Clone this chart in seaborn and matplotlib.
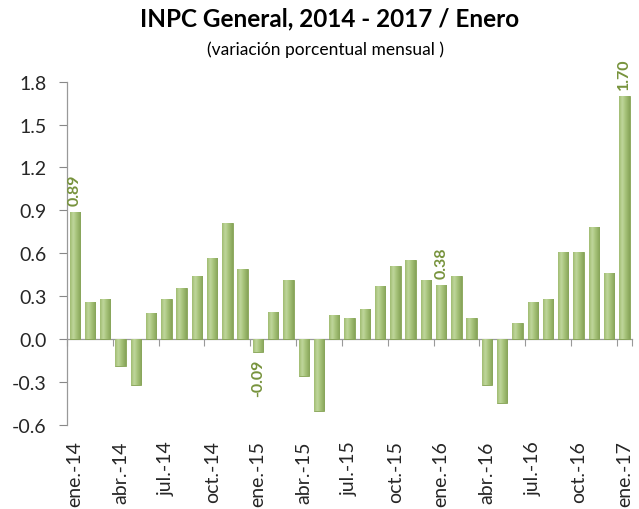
import numpy as np
import pandas as pd
import matplotlib
matplotlib.use("Agg")
import matplotlib.pyplot as plt
import seaborn as sns
from matplotlib.colors import LinearSegmentedColormap

months = ["ene", "feb", "mar", "abr", "may", "jun", "jul", "ago", "sep", "oct", "nov", "dic"]
periods = [f"{m}.-{y}" for y in ["14", "15", "16"] for m in months] + ["ene.-17"]
values = [0.89, 0.26, 0.28, -0.19, -0.32, 0.18, 0.28, 0.36, 0.44, 0.57, 0.81, 0.49,
          -0.09, 0.19, 0.41, -0.26, -0.50, 0.17, 0.15, 0.21, 0.37, 0.51, 0.55, 0.41,
          0.38, 0.44, 0.15, -0.32, -0.45, 0.11, 0.26, 0.28, 0.61, 0.61, 0.78, 0.46,
          1.70]
labeled = {"ene.-14": "0.89", "ene.-15": "-0.09", "ene.-16": "0.38", "ene.-17": "1.70"}
yticks = [-0.6, -0.3, 0.0, 0.3, 0.6, 0.9, 1.2, 1.5, 1.8]

df = pd.DataFrame({"periodo": periods, "valor": values})

sns.set_style("white")
plt.rcParams["font.family"] = ["Lato", "DejaVu Sans"]

fig = plt.figure(figsize=(6.39, 5.10), dpi=100)
ax = fig.add_axes([0.105, 0.165, 0.884, 0.673])

sns.barplot(data=df, x="periodo", y="valor", color="#9fbd6c", width=0.68,
            edgecolor="#86a355", linewidth=0.6, saturation=1, ax=ax, zorder=2)

# gradient fill for the 3D-ish bar look
cmap = LinearSegmentedColormap.from_list(
    "bar", [(0.0, "#9fbb70"), (0.3, "#c0d79d"), (0.55, "#aac67e"), (1.0, "#86a358")])
grad = np.linspace(0, 1, 64).reshape(1, -1)
for p in ax.patches:
    x0, y0 = p.get_x(), p.get_y()
    w, h = p.get_width(), p.get_height()
    ylo, yhi = sorted([y0, y0 + h])
    im = ax.imshow(grad, cmap=cmap, aspect="auto", extent=[x0, x0 + w, ylo, yhi],
                   zorder=2.5, interpolation="bicubic")
    im.set_clip_path(p)

ax.set_xlim(-0.5, len(periods) - 0.5)
ax.set_ylim(-0.6, 1.8)
ax.set_yticks(yticks)
ax.set_yticklabels([f"{t:.1f}" for t in yticks], fontsize=14)
ax.tick_params(axis="y", direction="out", length=6, width=0.8, color="#888888", pad=9, left=True)

tick_pos = list(range(0, len(periods), 3))
ax.set_xticks(tick_pos)
ax.set_xticklabels([periods[i] for i in tick_pos], rotation=90, fontsize=14)
ax.tick_params(axis="x", length=0, pad=11)
ax.set_xlabel("")
ax.set_ylabel("")

for s in ["top", "right", "bottom"]:
    ax.spines[s].set_visible(False)
ax.spines["left"].set_color("#999999")
ax.spines["left"].set_linewidth(0.9)

# category axis at zero with boundary tick marks every 3 months
sec = ax.secondary_xaxis(0.25)
sec.set_xticks([i - 0.5 for i in range(0, len(periods), 3)] + [len(periods) - 0.5])
sec.set_xticklabels([])
sec.tick_params(direction="out", length=5, width=0.8, color="#999999")
sec.spines["bottom"].set_color("#999999")
sec.spines["bottom"].set_linewidth(0.9)
for s in ["top", "left", "right"]:
    sec.spines[s].set_visible(False)

# data labels
for i, (per, v) in enumerate(zip(periods, values)):
    if per in labeled:
        off = 0.05 if v >= 0 else -0.05
        ax.text(i, v + off, labeled[per], rotation=90, ha="center",
                va="bottom" if v >= 0 else "top", color="#77933c",
                fontsize=11.5, fontweight="bold", zorder=5, clip_on=False)

fig.text(0.515, 0.963, "INPC General, 2014 - 2017 / Enero", ha="center", va="center",
         fontsize=17.5, fontweight="bold", color="black")
fig.text(0.51, 0.903, "(variación porcentual mensual )", ha="center", va="center",
         fontsize=12.5, color="black")

fig.savefig("out.png", dpi=100)
